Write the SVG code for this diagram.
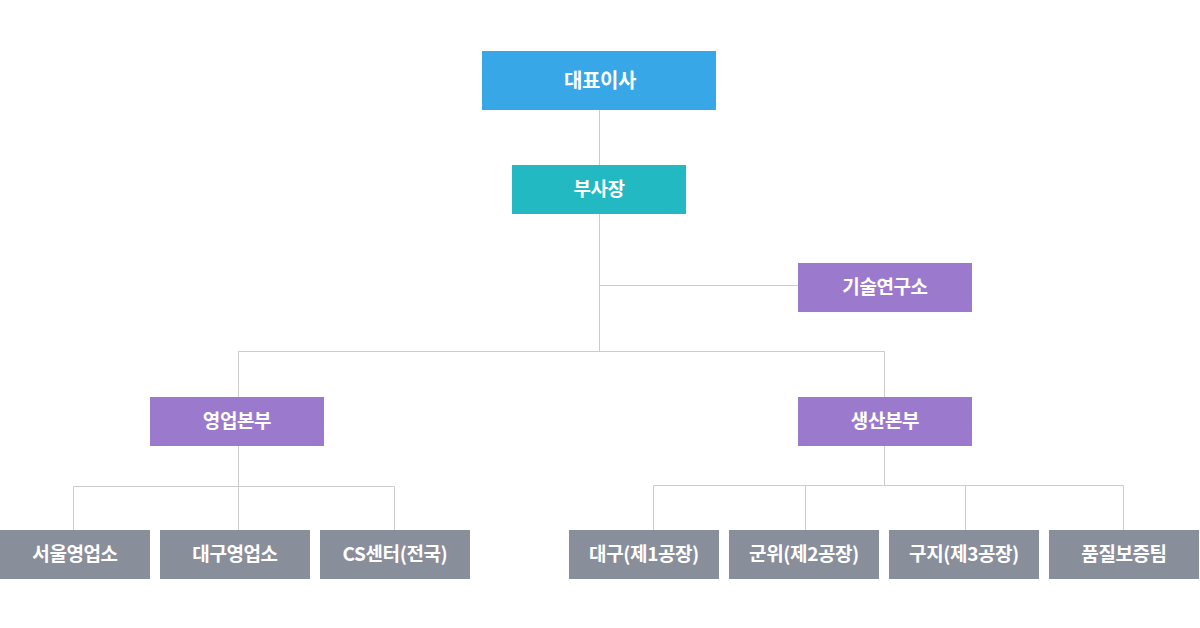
<svg xmlns="http://www.w3.org/2000/svg" width="1200" height="628" viewBox="0 0 1200 628">
<style>
.ln{stroke:#cccccc;stroke-width:1;fill:none}
.t{font-family:"Noto Sans CJK KR","Noto Sans",sans-serif;font-size:19px;font-weight:bold;fill:#ffffff;text-anchor:middle;letter-spacing:-0.4px}
.ceo{fill:#37a7e7}
.vp{fill:#22b9c2}
.div{fill:#9b79cd}
.leaf{fill:#898e9b}
</style>
<rect width="1200" height="628" fill="#ffffff"/>
<g id="connectors">
<path class="ln" d="M599.5 110V351.5M599.5 285.5H798M238.5 351.5H884.5M238.5 351.5V397M884.5 351.5V397M238.5 446V486.5M73.5 486.5H394.5M73.5 486.5V530M238.5 486.5V530M394.5 486.5V530M884.5 446V485.5M653.5 485.5H1123.5M653.5 485.5V530M805.5 485.5V530M965.5 485.5V530M1123.5 485.5V530"/>
</g>
<g id="ceo"><rect class="ceo" x="482" y="51" width="234" height="59"/><text class="t" x="600" y="88" style="font-size:20px">대표이사</text></g>
<g id="vp"><rect class="vp" x="512" y="165" width="174" height="49"/><text class="t" x="599" y="196">부사장</text></g>
<g id="lab"><rect class="div" x="798" y="263" width="174" height="49"/><text class="t" x="885" y="294">기술연구소</text></g>
<g id="sales"><rect class="div" x="150" y="397" width="174" height="49"/><text class="t" x="237" y="428">영업본부</text></g>
<g id="prod"><rect class="div" x="798" y="397" width="174" height="49"/><text class="t" x="885" y="428">생산본부</text></g>
<g id="seoul"><rect class="leaf" x="0" y="530" width="150" height="49"/><text class="t" x="75" y="561">서울영업소</text></g>
<g id="daegu"><rect class="leaf" x="160" y="530" width="150" height="49"/><text class="t" x="235" y="561">대구영업소</text></g>
<g id="cs"><rect class="leaf" x="320" y="530" width="150" height="49"/><text class="t" x="395" y="561">CS센터(전국)</text></g>
<g id="f1"><rect class="leaf" x="569" y="530" width="150" height="49"/><text class="t" x="644" y="561">대구(제1공장)</text></g>
<g id="f2"><rect class="leaf" x="729" y="530" width="150" height="49"/><text class="t" x="804" y="561">군위(제2공장)</text></g>
<g id="f3"><rect class="leaf" x="889" y="530" width="150" height="49"/><text class="t" x="964" y="561">구지(제3공장)</text></g>
<g id="qa"><rect class="leaf" x="1049" y="530" width="150" height="49"/><text class="t" x="1124" y="561">품질보증팀</text></g>
</svg>
